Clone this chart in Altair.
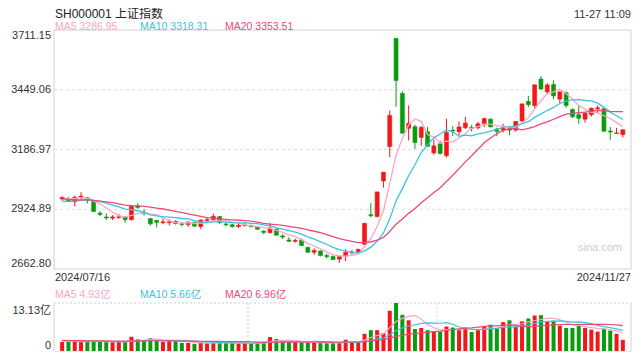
import altair as alt
import numpy as np
import pandas as pd

# ---------------- data ----------------
title_text = "SH000001 上证指数"
time_text = "11-27 11:09"
start_label = "2024/07/16"
end_label = "2024/11/27"

opens = [
    2970, 2972, 2958, 2978, 2975, 2962, 2908, 2891, 2886, 2889,
    2891, 2879, 2940, 2912, 2884, 2876, 2866, 2866, 2872, 2861,
    2858, 2866, 2849, 2875, 2880, 2893, 2860, 2857, 2849, 2853,
    2852, 2846, 2829, 2822, 2838, 2808, 2790, 2784, 2790, 2758,
    2736, 2742, 2722, 2718, 2706, 2720, 2734, 2738, 2770.75, 2901.4,
    2893, 3049, 3200, 3674.4, 3433, 3280, 3287, 3240, 3265, 3172,
    3212, 3160, 3272, 3265, 3283, 3284, 3282, 3300, 3320, 3277,
    3272, 3277, 3272, 3312, 3398, 3380, 3496, 3440, 3472, 3408,
    3436, 3362, 3340, 3320, 3340, 3366, 3366, 3268, 3257, 3252,
]
highs = [
    2982, 2978, 2985, 3000, 2978, 2966, 2916, 2906, 2899, 2904,
    2893, 2942, 2952, 2925, 2886, 2878, 2884, 2880, 2876, 2868,
    2873, 2868, 2880, 2890, 2905, 2895, 2868, 2862, 2862, 2866,
    2858, 2849, 2833, 2865, 2840, 2815, 2803, 2796, 2797, 2760,
    2754, 2744, 2730, 2722, 2720, 2750, 2746, 2752, 2863.6, 2952.4,
    3000.95, 3087.8, 3358.6, 3674.4, 3442, 3380, 3296, 3290, 3286, 3230,
    3226, 3322, 3290, 3310, 3330, 3295, 3308, 3327, 3324, 3283,
    3300, 3288, 3312, 3388, 3422, 3471, 3509, 3478, 3490, 3444,
    3442, 3368, 3380, 3350, 3370, 3380, 3368, 3285, 3282, 3275,
]
lows = [
    2962, 2958, 2937, 2965, 2950, 2912, 2895, 2877, 2878, 2883,
    2866, 2876, 2927, 2897, 2853, 2845, 2859, 2854, 2858, 2849,
    2847, 2849, 2838, 2868, 2874, 2860, 2850, 2845, 2843, 2850,
    2845, 2834, 2815, 2818, 2809, 2794, 2782, 2778, 2765, 2732,
    2725, 2718, 2709, 2702, 2689.7, 2698, 2726, 2731, 2769, 2889,
    2889, 3020, 3152.8, 3374, 3256, 3227, 3190, 3203, 3198, 3164,
    3166, 3152, 3246, 3250, 3276, 3266, 3275, 3285, 3284, 3245,
    3262, 3250, 3265, 3308, 3373, 3366, 3450, 3428, 3408, 3390,
    3370, 3325, 3300, 3305, 3332, 3346, 3265, 3230, 3255, 3240,
]
closes = [
    2976.30, 2962.85, 2977.13, 2982.31, 2964.22, 2915.37, 2901.95, 2886.74, 2890.90, 2891.85,
    2879.30, 2938.75, 2932.39, 2905.34, 2860.70, 2867.28, 2869.90, 2869.83, 2862.19, 2858.20,
    2867.95, 2850.65, 2877.36, 2879.43, 2893.67, 2866.66, 2856.58, 2848.77, 2854.37, 2855.52,
    2848.73, 2837.43, 2823.11, 2842.21, 2811.04, 2802.98, 2784.28, 2788.31, 2765.81, 2736.49,
    2744.19, 2721.80, 2717.12, 2704.09, 2717.28, 2736.02, 2736.81, 2748.92, 2863.13, 2896.31,
    3000.95, 3087.53, 3336.50, 3489.78, 3258.86, 3301.93, 3217.74, 3284.32, 3201.29, 3202.95,
    3169.38, 3261.56, 3268.11, 3285.87, 3302.80, 3280.26, 3299.70, 3322.20, 3286.41, 3266.24,
    3279.82, 3272.01, 3310.21, 3386.99, 3383.81, 3470.66, 3452.30, 3470.07, 3421.97, 3439.28,
    3379.84, 3330.73, 3323.85, 3346.01, 3367.99, 3370.40, 3267.19, 3263.76, 3259.76, 3273.617,
]
volumes = [
    2.5, 2.6, 2.6, 2.5, 2.5, 2.8, 2.6, 2.5, 2.4, 2.5,
    2.5, 3.9, 3.2, 2.9, 3.5, 2.9, 2.5, 2.7, 2.7, 2.2,
    2.2, 1.95, 2.3, 2.2, 2.3, 2.3, 2.2, 2.2, 2.1, 2.2,
    2.05, 2.2, 2.5, 3.8, 3.3, 2.7, 2.5, 2.4, 2.3, 2.3,
    2.2, 2.2, 2.2, 2.2, 2.2, 3.1, 2.5, 2.45, 4.7, 5.7,
    5.7, 4.85, 11.0, 13.13, 9.9, 8.4, 6.0, 6.3, 5.7, 5.3,
    5.3, 6.7, 6.4, 5.7, 6.4, 5.2, 5.7, 6.8, 7.2, 6.25,
    7.9, 8.4, 6.6, 8.1, 8.9, 9.7, 9.8, 8.0, 8.3, 6.9,
    6.3, 6.3, 7.2, 6.3, 5.85, 5.3, 6.0, 5.6, 4.7, 3.06,
]
# sessions before 2024/07/16 (needed for the moving averages)
warm_closes = [3018.05, 3005.44, 2998.14, 2963.10, 2950.00, 2972.53, 2945.85, 2967.40, 2994.73,
               2997.01, 2982.38, 2957.57, 2949.93, 2922.45, 2959.37, 2939.36, 2970.39, 2971.30, 2974.01]
warm_volumes = [3.1, 2.9, 3.2, 3.0, 2.8, 2.7, 3.3, 2.9, 2.8, 2.6, 3.0, 3.1, 2.8, 2.7, 2.9, 3.2, 2.8, 2.9, 2.7]

price_ticks = [2662.80, 2924.89, 3186.97, 3449.06, 3711.15]
vol_max = 13.13
ma_windows = [5, 10, 20]

# ---------------- styling ----------------
FONT = "Liberation Sans, Noto Sans CJK SC, sans-serif"
RED = "#f01818"
GREEN = "#0a9c0f"
MA_COLORS = {5: "#f9a6c6", 10: "#3cc3e3", 20: "#eb4a7d"}
GRID = "#dcdcdc"
BORDER = "#d2d2d2"
PX0, PX1 = 46, 623
PY0, PY1 = 22, 261
VY0, VY1 = 295, 343

n = len(closes)
df = pd.DataFrame({"idx": np.arange(n), "open": opens, "high": highs, "low": lows,
                   "close": closes, "vol": volumes})
df["dir"] = np.where(df["close"] >= df["open"], "up", "down")
allc = pd.Series(warm_closes + closes)
allv = pd.Series(warm_volumes + volumes)
for w in ma_windows:
    df[f"ma{w}"] = allc.rolling(w).mean().iloc[-n:].values
    df[f"vma{w}"] = allv.rolling(w).mean().iloc[-n:].values


def pscale():
    return alt.Scale(domain=[price_ticks[0], price_ticks[-1]], range=[PY1, PY0], zero=False, nice=False)


def vscale():
    return alt.Scale(domain=[0, vol_max], range=[VY1, VY0], zero=False, nice=False)


xs = alt.Scale(domain=[-0.5, n - 0.5], range=[PX0, PX1], zero=False, nice=False)
X = alt.X("idx:Q", scale=xs, axis=None)
cscale = alt.Scale(domain=["up", "down"], range=[RED, GREEN])
C = alt.Color("dir:N", scale=cscale, legend=None)
S = alt.Stroke("dir:N", scale=cscale, legend=None)
one = pd.DataFrame({"k": [0]})
base = alt.Chart(df)


def txt(s, x, y, align="left", baseline="middle", color="#333333", size=11):
    return alt.Chart(one).mark_text(text=s, align=align, baseline=baseline, font=FONT,
                                    fontSize=size, color=color).encode(x=alt.value(x), y=alt.value(y))


layers = []
# panel frames and grid
layers.append(alt.Chart(one).mark_rect(fillOpacity=0, stroke=BORDER, strokeWidth=1).encode(
    x=alt.value(PX0), x2=alt.value(PX1), y=alt.value(PY0), y2=alt.value(PY1)))
layers.append(alt.Chart(pd.DataFrame({"v": price_ticks[1:-1]})).mark_rule(
    strokeDash=[3, 3], strokeWidth=1.2, color=GRID).encode(
    y=alt.Y("v:Q", scale=pscale(), axis=None), x=alt.value(PX0), x2=alt.value(PX1)))
layers.append(alt.Chart(one).mark_rule(strokeDash=[2, 2], strokeWidth=1, color="#cfcfcf").encode(
    x=alt.value(PX0), x2=alt.value(PX1), y=alt.value(VY0)))
for xv in (PX0, PX1):
    layers.append(alt.Chart(one).mark_rule(strokeWidth=1, color=BORDER).encode(
        x=alt.value(xv), y=alt.value(VY0), y2=alt.value(VY1)))
layers.append(alt.Chart(one).mark_rule(strokeWidth=1, color="#e4e4e4").encode(
    x=alt.value(PX0), x2=alt.value(PX1), y=alt.value(VY1 + 0.5)))
layers.append(alt.Chart(pd.DataFrame({"gx": [(n / 3) - 0.5, (2 * n / 3) - 0.5]})).mark_rule(
    strokeDash=[2, 2], strokeWidth=1, color="#cfcfcf").encode(
    x=alt.X("gx:Q", scale=xs, axis=None), y=alt.value(VY0), y2=alt.value(VY1)))

# watermark
layers.append(txt("sina.com", 614, 240, align="right", color="#cccccc", size=11))

# candles
layers.append(base.mark_rule(strokeWidth=1).encode(
    x=X, y=alt.Y("low:Q", scale=pscale(), axis=None), y2="high:Q", color=C))
layers.append(base.mark_bar(size=4, strokeWidth=0.6).encode(
    x=X, y=alt.Y("open:Q", scale=pscale(), axis=None), y2="close:Q", color=C, stroke=S))
# price moving averages
for w in ma_windows:
    layers.append(base.mark_line(color=MA_COLORS[w], strokeWidth=1.3).encode(
        x=X, y=alt.Y(f"ma{w}:Q", scale=pscale(), axis=None)))

# volume
layers.append(base.mark_bar(size=4).encode(
    x=X, y=alt.Y("vol:Q", scale=vscale(), axis=None), color=C))
for w in ma_windows:
    layers.append(base.mark_line(color=MA_COLORS[w], strokeWidth=1.2).encode(
        x=X, y=alt.Y(f"vma{w}:Q", scale=vscale(), axis=None)))

# price axis labels
tick_df = pd.DataFrame({"v": price_ticks})
for sub, bl in ((tick_df.iloc[1:-1], "middle"), (tick_df.iloc[[-1]], "top"), (tick_df.iloc[[0]], "bottom")):
    layers.append(alt.Chart(sub).mark_text(align="right", baseline=bl, font=FONT, fontSize=11,
                                           color="#333333").encode(
        x=alt.value(43), y=alt.Y("v:Q", scale=pscale(), axis=None),
        text=alt.Text("v:Q", format=".2f")))
# volume axis labels
layers.append(alt.Chart(pd.DataFrame({"v": [vol_max], "t": [f"{vol_max:.2f}亿"]})).mark_text(
    align="right", baseline="top", font=FONT, fontSize=11, color="#333333", dy=2).encode(
    x=alt.value(43), y=alt.Y("v:Q", scale=vscale(), axis=None), text="t:N"))
layers.append(alt.Chart(pd.DataFrame({"v": [0.0], "t": ["0"]})).mark_text(
    align="right", baseline="bottom", font=FONT, fontSize=11, color="#333333").encode(
    x=alt.value(43), y=alt.Y("v:Q", scale=vscale(), axis=None), text="t:N"))

# header texts and legends
layers.append(txt(title_text, 47, 1, baseline="top", color="#222222", size=12))
layers.append(txt(time_text, PX1, 1, align="right", baseline="top", color="#333333", size=11))
leg_x = [47, 132, 217]
last = df.iloc[-1]
for lx, w in zip(leg_x, ma_windows):
    layers.append(txt(f"MA{w} {last[f'ma{w}']:.2f}", lx, 19, color=MA_COLORS[w], size=10.5))
    layers.append(txt(f"MA{w} {last[f'vma{w}']:.2f}亿", lx, 287, color=MA_COLORS[w], size=10.5))
layers.append(txt(start_label, 47, 270, color="#333333", size=11))
layers.append(txt(end_label, PX1, 270, align="right", color="#333333", size=11))

chart = alt.layer(*layers).resolve_scale(y="independent").properties(
    width=624, height=344, autosize=alt.AutoSizeParams(type="none"), padding=0,
    background="white"
).configure_view(stroke="transparent")

chart.save("out.html", embed_options={"renderer": "svg", "actions": False})
